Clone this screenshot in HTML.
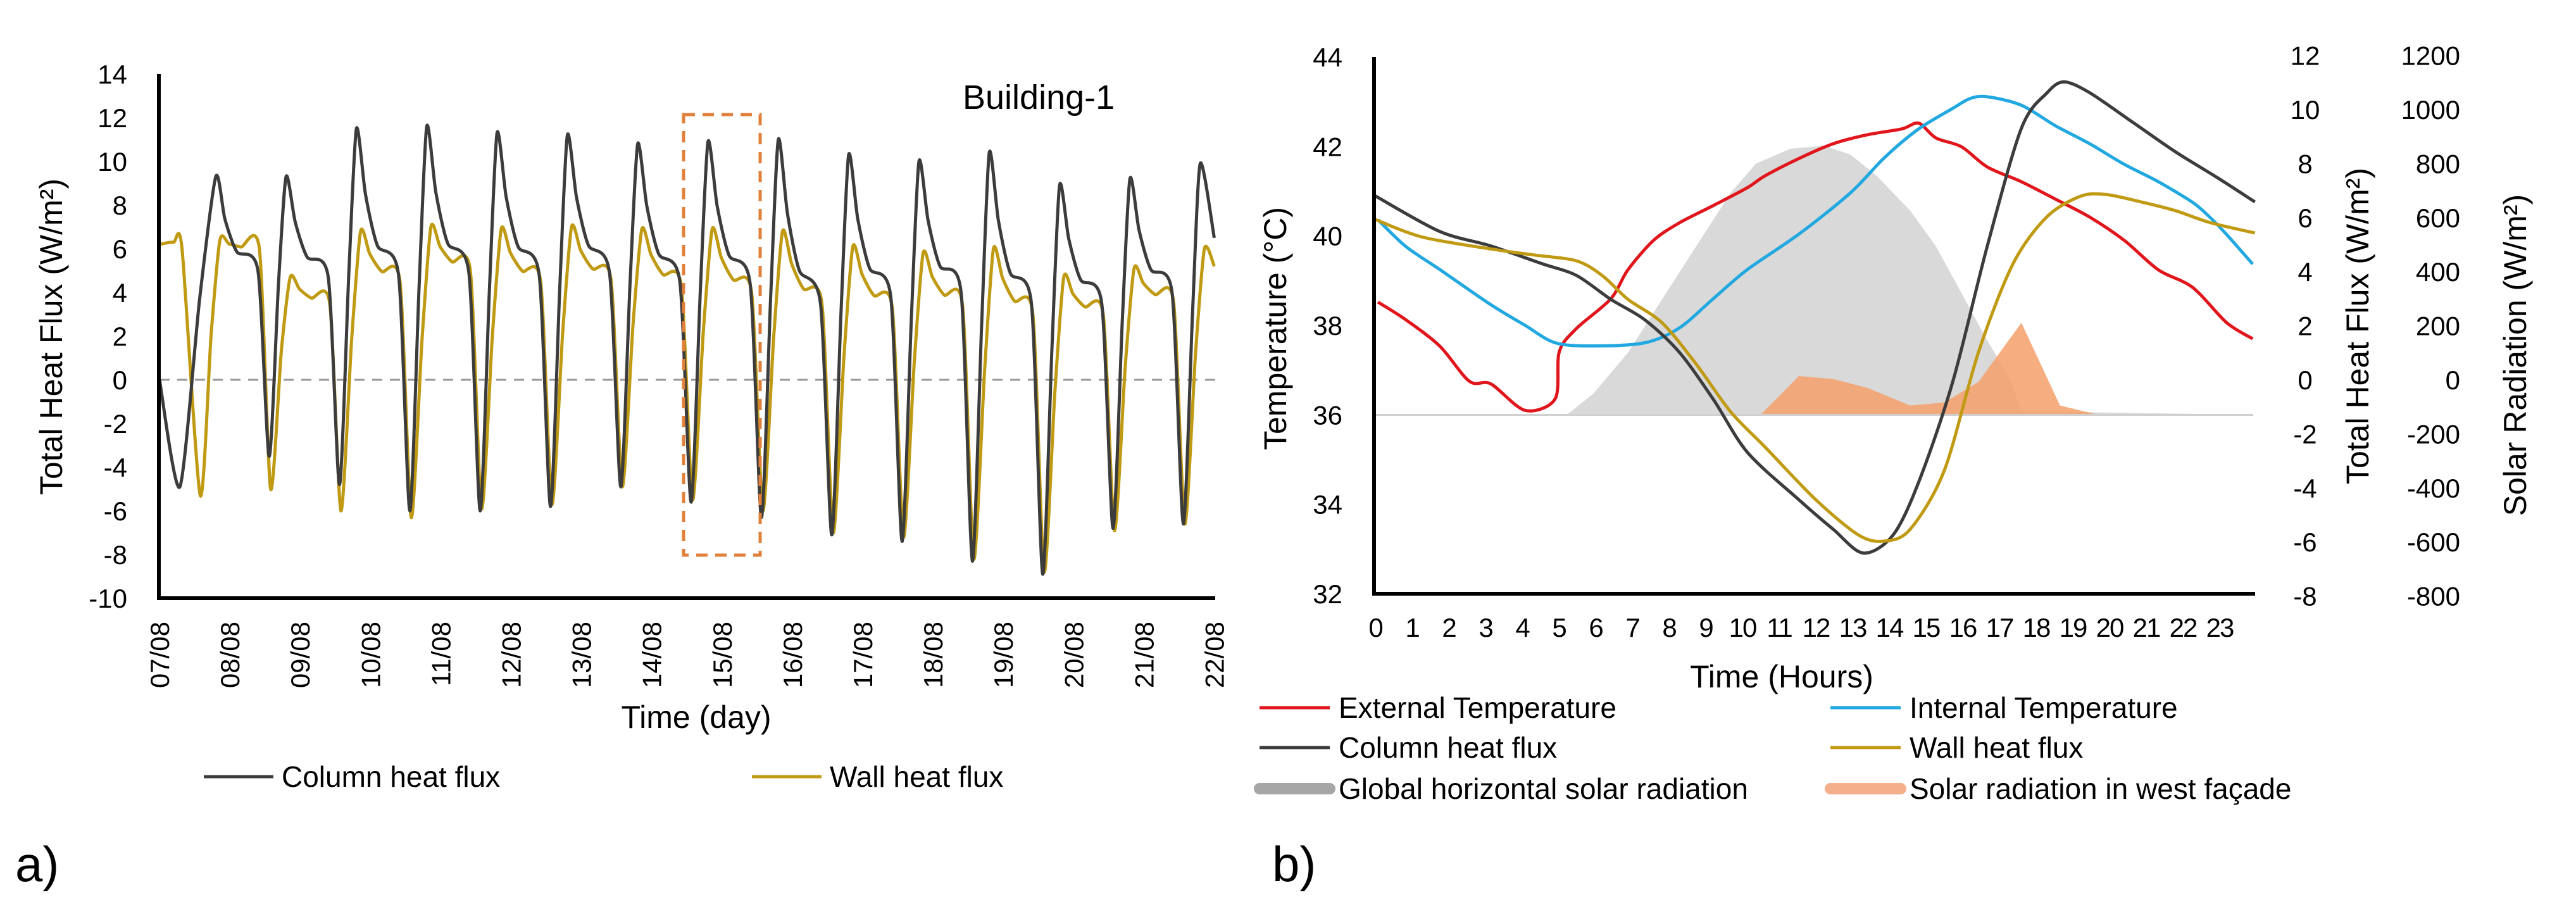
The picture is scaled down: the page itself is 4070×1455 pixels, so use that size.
<!DOCTYPE html>
<html><head><meta charset="utf-8"><style>
html,body{margin:0;padding:0;background:#fff;}
svg{display:block;font-family:"Liberation Sans",sans-serif;}
</style></head><body>
<svg id="root" width="4070" height="1455" viewBox="0 0 4070 1455">
<g id="ga"></g>
<g id="gb"></g>
</svg>
<script>
// ---------- Chart a data ----------
const aDays = ["07/08","08/08","09/08","10/08","11/08","12/08","13/08","14/08","15/08","16/08","17/08","18/08","19/08","20/08","21/08","22/08"];
const aYTicks = [14,12,10,8,6,4,2,0,-2,-4,-6,-8,-10];
const colTrough = [-4.9,-3.5,-4.8,-6.0,-6.0,-5.8,-4.9,-5.6,-6.3,-7.1,-7.4,-8.3,-8.9,-6.8,-6.6];
const colPeak = [9.3,9.3,11.5,11.6,11.3,11.2,10.8,10.9,11.0,10.3,10.0,10.4,8.9,9.2,9.9];
const colShoulder = [5.0,4.7,4.8,4.9,4.8,4.9,4.5,4.4,3.5,3.8,4.0,3.5,3.5,4.0];
const colStart = 0, colEnd = 6.5;
const wallTrough = [-5.3,-5.0,-6.0,-6.3,-5.9,-5.7,-4.9,-5.5,-6.0,-7.0,-7.2,-8.2,-8.8,-6.9,-6.6];
const wallPeak = [6.4,4.7,6.8,7.0,6.9,7.0,6.9,6.9,6.8,6.1,5.8,6.0,4.7,5.1,6.0];
const wallShoulder = [6.0,3.5,4.5,5.0,4.5,4.6,4.3,4.0,3.5,3.3,3.4,3.0,3.0,3.6];
const wallStart = 6.2, wallEnd = 5.2;

// ---------- Chart b data ----------
const bHours = [0,1,2,3,4,5,6,7,8,9,10,11,12,13,14,15,16,17,18,19,20,21,22,23];
const bTempTicks = [44,42,40,38,36,34,32];
const bFluxTicks = [12,10,8,6,4,2,0,-2,-4,-6,-8];
const bSolarTicks = [1200,1000,800,600,400,200,0,-200,-400,-600,-800];
const extH = [0.07,0.82,1.75,2.56,3.15,4.08,4.9,5.01,5.48,6.41,6.88,7.58,8.28,9.21,10.14,10.61,11.54,12.47,13.4,14.34,14.8,15.27,15.97,16.67,17.6,18.53,19.46,20.4,21.33,22.26,23.19,23.9];
const extT = [38.52,38.13,37.54,36.75,36.69,36.10,36.36,37.41,37.93,38.59,39.24,39.9,40.29,40.68,41.08,41.34,41.73,42.06,42.26,42.39,42.52,42.19,41.99,41.54,41.21,40.82,40.42,39.9,39.24,38.85,38.06,37.7];
const intH = [0.07,0.82,1.75,3.15,4.08,4.9,5.94,7.34,8.28,9.21,10.14,11.54,12.94,13.87,14.8,15.73,16.2,16.67,17.6,18.53,19.46,20.4,21.33,22.26,22.73,23.19,23.9];
const intT = [40.36,39.77,39.25,38.46,38.0,37.61,37.54,37.61,37.94,38.6,39.25,40.04,40.96,41.75,42.39,42.85,43.07,43.11,42.92,42.46,42.06,41.6,41.21,40.75,40.42,40.03,39.37];
const colH = [0,1.75,3.15,4.55,5.48,6.41,7.34,8.28,9.21,10.14,11.54,12.47,13.29,14.1,14.8,15.73,16.67,17.6,18.3,18.76,19.46,20.63,21.79,22.96,23.96];
const colF = [6.8,5.49,4.95,4.29,3.86,2.98,2.22,1.02,-0.73,-2.69,-4.44,-5.53,-6.41,-5.75,-3.79,-0.07,4.95,9.31,10.62,11.02,10.62,9.53,8.44,7.46,6.58];
const wallH = [0,1.28,3.15,4.31,5.48,6.18,6.88,7.81,8.74,9.67,10.61,12.0,13.17,13.87,14.57,15.5,16.43,17.37,18.3,19.23,19.93,20.86,21.79,22.73,23.96];
const wallF = [5.93,5.28,4.84,4.62,4.40,3.86,2.98,2.11,0.58,-1.17,-2.48,-4.44,-5.75,-5.97,-5.53,-3.35,1.02,4.29,6.04,6.8,6.85,6.58,6.26,5.82,5.43];
const ghH = [0,5.24,5.94,6.88,7.81,8.74,9.67,10.37,11.31,12.24,12.94,13.64,14.57,15.27,15.97,16.67,17.25,17.6,23.96];
const ghS = [-130,-127,-51,100,298,494,690,800,855,866,833,757,626,494,320,145,14,-116,-130];
const wfH = [10.49,11.54,12.47,13.4,14.57,15.5,16.43,17.6,18.65,19.7];
const wfS = [-130,14,3,-30,-95,-84,-8,211,-95,-130];
const solarBase = -130;

const NS="http://www.w3.org/2000/svg";
function mk(parent,tag,attrs,text){const e=document.createElementNS(NS,tag);for(const k in attrs)e.setAttribute(k,attrs[k]);if(text!==undefined)e.textContent=text;parent.appendChild(e);return e;}
const ga=document.getElementById('ga'), gb=document.getElementById('gb');
function smooth(pts,t){ // Catmull-Rom to bezier with reduced tension
  let d=`M${pts[0][0].toFixed(1)} ${pts[0][1].toFixed(1)}`;
  for(let i=0;i<pts.length-1;i++){
    const p0=pts[i-1]||pts[i],p1=pts[i],p2=pts[i+1],p3=pts[i+2]||p2;
    const c1=[p1[0]+(p2[0]-p0[0])*t,p1[1]+(p2[1]-p0[1])*t];
    const c2=[p2[0]-(p3[0]-p1[0])*t,p2[1]-(p3[1]-p1[1])*t];
    d+=` C${c1[0].toFixed(1)} ${c1[1].toFixed(1)} ${c2[0].toFixed(1)} ${c2[1].toFixed(1)} ${p2[0].toFixed(1)} ${p2[1].toFixed(1)}`;
  }
  return d;
}

// ---------- Chart a ----------
const xA=d=>252+d*111.1, yA=v=>600-v*34.5;
let e;
e=mk(ga,'line',{x1:xA(0),y1:yA(0),x2:1920,y2:yA(0),stroke:'#999',"stroke-width":3,"stroke-dasharray":"16 12"});

function aSeries(start,tr,pk,sh,end,trOff0,trOff,pkOff){
  const p=[[0,start]];
  if(start===wallStart){p.push([0.2,6.3],[0.32,6.0]);}
  for(let k=0;k<15;k++){
    const tt=k===0?trOff0:k+trOff;
    p.push([tt,tr[k]]);
    p.push([tt+(k+pkOff-tt)*0.55,(tr[k]+pk[k])/2+1.5]);
    p.push([k+pkOff,pk[k]]);
    if(k<14){p.push([k+pkOff+0.13,pk[k]-(pk[k]-sh[k])*0.45]);p.push([k+pkOff+0.3,sh[k]+(pk[k]-sh[k])*0.2]);p.push([k+1+trOff-0.16,sh[k]]);}
  }
  p.push([15,end]);
  return p;
}
const colPts=aSeries(colStart,colTrough,colPeak,colShoulder,colEnd,0.29,0.56,0.8);
const wallPts=aSeries(wallStart,wallTrough,wallPeak,wallShoulder,wallEnd,0.58,0.58,0.86);
e=mk(ga,'path',{d:smooth(wallPts.map(q=>[xA(q[0]),yA(q[1])]),0.12),fill:'none',stroke:'#c09a12',"stroke-width":5,"stroke-linejoin":"round"});

e=mk(ga,'path',{d:smooth(colPts.map(q=>[xA(q[0]),yA(q[1])]),0.12),fill:'none',stroke:'#3c3c3c',"stroke-width":5,"stroke-linejoin":"round"});

e=mk(ga,'rect',{x:1080,y:181,width:121,height:696,fill:'none',stroke:'#e0803a',"stroke-width":5,"stroke-dasharray":"18 12"});

e=mk(ga,'path',{d:`M251 117 V945 H1920`,fill:'none',stroke:'#000',"stroke-width":6});

aYTicks.forEach(v=>{e=mk(ga,'text',{x:201,y:yA(v)+15,"font-size":42,"text-anchor":"end"},String(v));
});
aDays.forEach((d,i)=>{const x=xA(i)+15;e=mk(ga,'text',{x:x,y:982,"font-size":42,"text-anchor":"end",transform:`rotate(-90 ${x} 982)`},d);
});
e=mk(ga,'text',{x:98,y:532,"font-size":50,"text-anchor":"middle",transform:'rotate(-90 98 532)'},'Total Heat Flux (W/m²)');

e=mk(ga,'text',{x:1100,y:1150,"font-size":50,"text-anchor":"middle"},'Time (day)');

e=mk(ga,'text',{x:1521,y:172,"font-size":54},'Building-1');

e=mk(ga,'line',{x1:322,y1:1227,x2:432,y2:1227,stroke:'#3c3c3c',"stroke-width":5});

e=mk(ga,'text',{x:445,y:1243,"font-size":46},'Column  heat flux');

e=mk(ga,'line',{x1:1188,y1:1227,x2:1298,y2:1227,stroke:'#c09a12',"stroke-width":5});

e=mk(ga,'text',{x:1311,y:1243,"font-size":46},'Wall  heat flux');

e=mk(ga,'text',{x:24,y:1392,"font-size":78},'a)');


// ---------- Chart b ----------
const xB=h=>2173+58*h, yT=t=>938-(t-32)*70.67, yF=f=>600-f*42.7, yS=s=>600-s*0.427;
function area(H,S){let d=`M${xB(H[0])} ${yS(solarBase)}`;H.forEach((h,i)=>{d+=` L${xB(h).toFixed(1)} ${yS(Math.max(S[i],solarBase)).toFixed(1)}`;});d+=` L${xB(H[H.length-1])} ${yS(solarBase)} Z`;return d;}
e=mk(gb,'path',{d:area(ghH,ghS),fill:'#d9d9d9'});

e=mk(gb,'path',{d:area(wfH,wfS),fill:'#f4a06a',"fill-opacity":0.85});

e=mk(gb,'line',{x1:xB(0),y1:yS(solarBase),x2:3560,y2:yS(solarBase),stroke:'#d0d0d0',"stroke-width":3});

function line(H,V,yf,c){return mk(gb,'path',{d:smooth(H.map((h,i)=>[xB(h),yf(V[i])]),0.15),fill:'none',stroke:c,"stroke-width":5,"stroke-linejoin":"round"});}
e=line(extH,extT,yT,'#e0161c');
e=line(intH,intT,yT,'#22a8e0');
e=line(colH,colF,yF,'#3c3c3c');
e=line(wallH,wallF,yF,'#c09a12');
e=mk(gb,'path',{d:`M2171 90 V938 H3563`,fill:'none',stroke:'#000',"stroke-width":6});

bTempTicks.forEach(v=>{e=mk(gb,'text',{x:2121,y:yT(v)+15,"font-size":42,"text-anchor":"end"},String(v));
});
bFluxTicks.forEach(v=>{e=mk(gb,'text',{x:3642,y:yF(v)+15,"font-size":42,"text-anchor":"middle"},String(v));
});
bSolarTicks.forEach(v=>{e=mk(gb,'text',{x:3887,y:yS(v)+15,"font-size":42,"text-anchor":"end"},String(v));
});
bHours.forEach(h=>{e=mk(gb,'text',{x:xB(h),y:1006,"font-size":42,"text-anchor":"middle","letter-spacing":"-2"},String(h));
});
e=mk(gb,'text',{x:2032,y:519,"font-size":50,"text-anchor":"middle",transform:'rotate(-90 2032 519)'},'Temperature (°C)');

e=mk(gb,'text',{x:3742,y:515,"font-size":50,"text-anchor":"middle",transform:'rotate(-90 3742 515)'},'Total Heat Flux (W/m²)');

e=mk(gb,'text',{x:3991,y:561,"font-size":50,"text-anchor":"middle",transform:'rotate(-90 3991 561)'},'Solar Radiation (W/m²)');

e=mk(gb,'text',{x:2815,y:1086,"font-size":50,"text-anchor":"middle"},'Time (Hours)');

const legB=[
 [1990,1118,'#e0161c',5,'External Temperature','legend-external'],
 [2892,1118,'#22a8e0',5,'Internal Temperature','legend-internal'],
 [1990,1181,'#3c3c3c',5,'Column  heat flux','legend-column-b'],
 [2892,1181,'#c09a12',5,'Wall  heat flux','legend-wall-b'],
 [1990,1246,'#a6a6a6',18,'Global horizontal solar radiation','legend-global-solar'],
 [2892,1246,'#f4b08a',18,'Solar radiation in west façade','legend-west-solar']];
legB.forEach(l=>{
 e=mk(gb,'line',{x1:l[0],y1:l[1],x2:l[0]+111,y2:l[1],stroke:l[2],"stroke-width":l[3],"stroke-linecap":l[3]>10?'round':'butt'});
 
 e=mk(gb,'text',{x:l[0]+125,y:l[1]+16,"font-size":46},l[4]);
 
});
e=mk(gb,'text',{x:2010,y:1392,"font-size":78},'b)');

</script>
</body></html>
